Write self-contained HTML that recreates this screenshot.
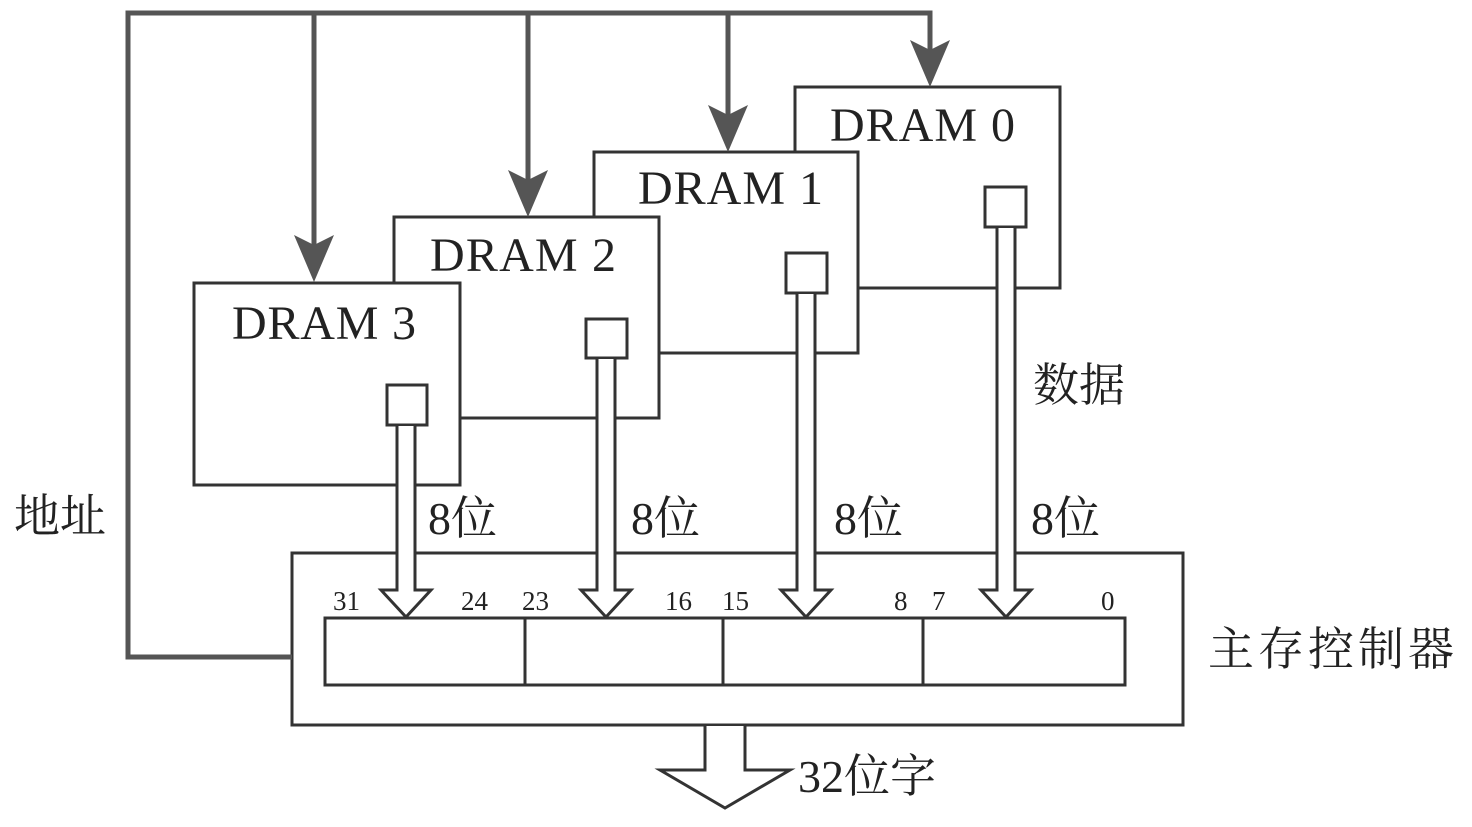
<!DOCTYPE html>
<html><head><meta charset="utf-8"><style>html,body{margin:0;padding:0;background:#fff}</style></head><body>
<svg width="1472" height="822" xmlns="http://www.w3.org/2000/svg" font-family="Liberation Serif, Noto Serif CJK SC, serif">
<g stroke="#333" stroke-width="3" fill="#fff">
<rect x="795" y="87" width="265" height="201"/>
<rect x="594" y="152" width="264" height="201"/>
<rect x="394" y="217" width="265" height="201"/>
<rect x="194" y="283" width="266" height="202"/>
<rect x="985" y="187" width="41" height="40"/>
<rect x="786" y="253" width="41" height="40"/>
<rect x="586" y="319" width="41" height="39"/>
<rect x="387" y="385" width="40" height="40"/>
<rect x="292" y="553" width="891" height="172"/>
<rect x="325" y="618" width="800" height="67"/>
<line x1="525" y1="618" x2="525" y2="685"/>
<line x1="723" y1="618" x2="723" y2="685"/>
<line x1="923" y1="618" x2="923" y2="685"/>
</g>
<g stroke="#333" stroke-width="3" fill="#fff" stroke-linejoin="miter">
<path d="M397 426 V590 H381 L406 617 L431 590 H415 V426"/>
<path d="M597 359 V590 H581 L606 617 L631 590 H615 V359"/>
<path d="M797 294 V590 H781 L806 617 L831 590 H815 V294"/>
<path d="M997 228 V590 H981 L1006 617 L1031 590 H1015 V228"/>
<path d="M705 726 V770 H660 L725 808 L790 770 H745 V726"/>
</g>
<g stroke="#555" stroke-width="5" fill="none">
<path d="M292 657 H128 V13 H930 V60"/>
<line x1="314" y1="13" x2="314" y2="245"/>
<line x1="528" y1="13" x2="528" y2="180"/>
<line x1="728" y1="13" x2="728" y2="115"/>
<line x1="930" y1="13" x2="930" y2="50"/>
</g>
<g fill="#555">
<path d="M294 235 L314 282 L334 235 L314 245 Z"/>
<path d="M508 170 L528 217 L548 170 L528 180 Z"/>
<path d="M708 105 L728 152 L748 105 L728 115 Z"/>
<path d="M910 40 L930 87 L950 40 L930 50 Z"/>
</g>
<g fill="#222" font-size="48">
<text x="830" y="141" textLength="185">DRAM 0</text>
<text x="638" y="204" textLength="185">DRAM 1</text>
<text x="430" y="271" textLength="186">DRAM 2</text>
<text x="232" y="339" textLength="184">DRAM 3</text>
</g>
<g fill="#222" font-size="46">
<text x="428" y="534">8位</text>
<text x="631" y="534">8位</text>
<text x="834" y="534">8位</text>
<text x="1031" y="534">8位</text>
<text x="1033" y="401">数据</text>
<text x="14" y="532">地址</text>
<text x="1208" y="665" textLength="246">主存控制器</text>
<text x="798" y="792">32位字</text>
</g>
<g fill="#222" font-size="27">
<text x="333" y="610">31</text>
<text x="461" y="610">24</text>
<text x="522" y="610">23</text>
<text x="665" y="610">16</text>
<text x="722" y="610">15</text>
<text x="894" y="610">8</text>
<text x="932" y="610">7</text>
<text x="1101" y="610">0</text>
</g>
</svg>
</body></html>
